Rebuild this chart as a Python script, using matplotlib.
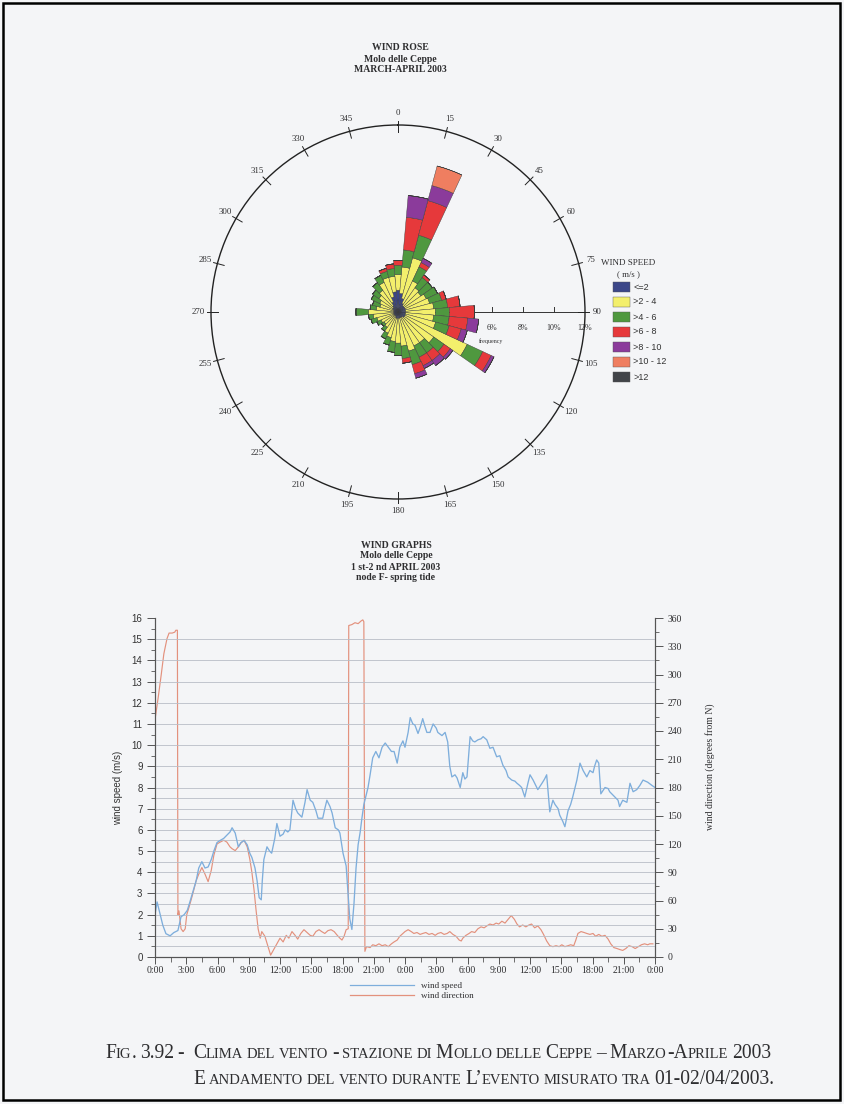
import numpy as np
import matplotlib
matplotlib.use("Agg")
import matplotlib.pyplot as plt
from matplotlib.patches import Rectangle
from matplotlib.lines import Line2D
from matplotlib.ticker import MultipleLocator

# ---------------- data: wind rose (frequency %, 10-degree sectors) ----------------
DIRECTIONS = list(range(0, 360, 10))
SPEED_CLASSES = ["<=2", ">2 - 4", ">4 - 6", ">6 - 8", ">8 - 10", ">10 - 12", ">12"]
FREQ_LE2 = [1.4, 1.2, 0.9, 0.6, 0.5, 0.5, 0.5, 0.5, 0.5, 0.5, 0.5, 0.5, 0.5, 0.5, 0.4, 0.4, 0.4, 0.4,
            0.4, 0.4, 0.4, 0.3, 0.3, 0.3, 0.3, 0.3, 0.3, 0.3, 0.3, 0.3, 0.4, 0.4, 0.5, 0.7, 1.0, 1.3]
FREQ_2_4 = [1.0, 1.7, 2.7, 1.6, 1.4, 1.3, 1.5, 1.6, 1.8, 1.9, 1.8, 2.0, 4.4, 2.3, 2.0, 2.0, 2.2, 1.8,
            1.6, 1.5, 1.3, 1.2, 0.9, 0.8, 0.9, 1.1, 1.3, 1.6, 1.1, 0.9, 0.9, 1.1, 1.2, 1.4, 1.3, 1.0]
FREQ_4_6 = [0.6, 1.1, 1.5, 1.0, 0.8, 0.9, 0.8, 0.8, 0.9, 0.9, 1.0, 0.9, 1.1, 0.8, 0.8, 0.8, 0.9, 0.8,
            0.8, 0.7, 0.5, 0.4, 0.3, 0.2, 0.3, 0.4, 0.3, 0.8, 0.4, 0.5, 0.6, 0.5, 0.6, 0.5, 0.4, 0.5]
FREQ_6_8 = [0.3, 2.1, 2.3, 0.3, 0.2, 0.0, 0.0, 0.3, 0.8, 1.6, 1.2, 0.8, 0.6, 0.5, 0.6, 0.6, 0.6, 0.3,
            0.0, 0.0, 0.0, 0.0, 0.0, 0.0, 0.0, 0.0, 0.0, 0.0, 0.0, 0.0, 0.0, 0.0, 0.0, 0.0, 0.2, 0.3]
FREQ_8_10 = [0.0, 1.4, 1.0, 0.3, 0.0, 0.0, 0.0, 0.0, 0.0, 0.0, 0.7, 0.4, 0.2, 0.2, 0.4, 0.2, 0.3, 0.0,
             0.0, 0.0, 0.0, 0.0, 0.0, 0.0, 0.0, 0.0, 0.0, 0.0, 0.0, 0.0, 0.0, 0.0, 0.0, 0.0, 0.0, 0.0]
FREQ_10_12 = [0.0, 0.0, 1.3, 0.0, 0.0, 0.0, 0.0, 0.0, 0.0, 0.0, 0.0, 0.0, 0.0, 0.0, 0.0, 0.0, 0.0, 0.0,
              0.0, 0.0, 0.0, 0.0, 0.0, 0.0, 0.0, 0.0, 0.0, 0.0, 0.0, 0.0, 0.0, 0.0, 0.0, 0.0, 0.0, 0.0]
FREQ_GT12 = [0.0] * 36
ROSE_RINGS = [6, 8, 10, 12]

# ---------------- data: wind graphs 1-2 April 2003 ----------------
SPEED_HOURS = [0.0, 0.2, 0.5, 0.75, 1.05, 1.45, 1.8, 2.2, 2.5, 2.8, 3.1, 3.35, 3.65, 3.95, 4.2, 4.5, 4.8,
               5.1, 5.4, 5.65, 5.95, 6.25, 6.6, 6.9, 7.2, 7.4, 7.7, 8.0, 8.25, 8.55, 8.85, 9.1, 9.3, 9.6,
               9.8, 10.0, 10.2, 10.3, 10.45, 10.75, 11.0, 11.2, 11.5, 11.7, 12.0, 12.3, 12.5, 12.75,
               12.95, 13.25, 13.5, 13.7, 14.1, 14.4, 14.6, 14.9, 15.15, 15.45, 15.65, 16.1, 16.3, 16.5,
               16.8, 17.0, 17.3, 17.6, 17.75, 18.05, 18.35, 18.5, 18.7, 18.9, 19.1, 19.3, 19.5, 19.7,
               19.85, 20.05, 20.25, 20.45, 20.65, 20.9, 21.2, 21.5, 21.8, 22.1, 22.4, 22.7, 22.95,
               23.25, 23.5, 23.8, 24.0, 24.3, 24.5, 24.75, 24.95, 25.25, 25.5, 25.7, 25.9, 26.1, 26.4,
               26.7, 27.0, 27.15, 27.55, 27.85, 28.1, 28.3, 28.5, 28.8, 29.0, 29.3, 29.55, 29.75,
               29.95, 30.25, 30.5, 30.7, 31.0, 31.3, 31.5, 31.85, 32.15, 32.45, 32.8, 33.1, 33.4, 33.7,
               33.9, 34.25, 34.55, 34.75, 35.0, 35.2, 35.5, 35.8, 36.0, 36.3, 36.55, 36.75, 37.15,
               37.4, 37.6, 37.9, 38.2, 38.4, 38.7, 38.85, 39.15, 39.35, 39.65, 39.9, 40.1, 40.5, 40.8,
               41.1, 41.45, 41.75, 42.05, 42.2, 42.4, 42.6, 42.8, 43.2, 43.5, 43.65, 43.95, 44.45,
               44.6, 44.9, 45.3, 45.6, 45.9, 46.25, 46.55, 46.85, 47.3, 47.7, 48.0]
SPEED_MS = [2.0, 2.6, 2.0, 1.5, 1.1, 1.0, 1.15, 1.25, 1.9, 2.0, 2.2, 2.6, 3.1, 3.6, 4.2, 4.5, 4.2,
            4.25, 4.6, 5.0, 5.4, 5.5, 5.6, 5.75, 5.9, 6.1, 5.85, 5.2, 5.4, 5.5, 5.3, 4.9, 4.7, 4.2,
            3.6, 2.8, 2.7, 3.6, 4.6, 5.2, 5.0, 4.9, 5.6, 6.3, 5.7, 5.8, 6.0, 5.9,
            6.0, 7.4, 7.0, 6.8, 6.6, 7.3, 7.9, 7.4, 7.3, 6.9, 6.55, 6.55, 7.0, 7.4,
            7.1, 6.8, 6.1, 6.0, 5.85, 4.9, 4.3, 3.2, 1.8, 1.3, 2.5, 4.2, 5.3, 5.9,
            6.5, 7.2, 7.6, 8.0, 8.6, 9.4, 9.7, 9.4, 9.9, 10.1, 9.9, 9.7, 9.7,
            9.15, 9.9, 10.2, 9.9, 10.6, 11.3, 11.0, 10.95, 10.55, 10.9, 11.25, 10.9, 10.6, 10.6,
            11.0, 10.8, 10.6, 10.45, 10.6, 10.15, 9.0, 8.5, 8.6, 8.45, 8.0, 8.7, 8.4,
            8.5, 10.4, 10.2, 10.15, 10.25, 10.3, 10.4, 10.25, 9.85, 9.9, 9.45, 9.5, 9.05, 8.8,
            8.5, 8.35, 8.3, 8.2, 8.1, 8.0, 7.55, 8.2, 8.6, 8.35, 8.1, 7.9, 8.2,
            8.4, 8.6, 6.85, 7.4, 7.2, 7.0, 6.7, 6.4, 6.15, 6.9, 7.2, 7.55, 8.35, 9.15,
            8.8, 8.5, 8.8, 8.7, 9.0, 9.3, 9.15, 7.7, 8.0, 7.95, 7.8, 7.65, 7.4,
            7.1, 7.4, 7.3, 8.2, 7.8, 7.9, 8.1, 8.35, 8.25, 8.1, 8.0]

DIR_HOURS = [0.0, 0.3, 0.6, 0.85, 1.15, 1.35, 1.65, 1.9, 2.0, 2.15, 2.2, 2.3, 2.5, 2.7, 2.9, 3.05,
             3.35, 3.65, 3.95, 4.2, 4.5, 4.8, 5.1, 5.4, 5.65, 5.95, 6.25, 6.6, 6.9, 7.2, 7.4, 7.7,
             8.0, 8.25, 8.55, 8.85, 9.1, 9.3, 9.5, 9.7, 9.9, 10.1, 10.25, 10.55, 10.85, 11.1, 11.4,
             11.7, 12.0, 12.3, 12.6, 12.85, 13.15, 13.45, 13.7, 14.0, 14.3, 14.6, 14.9, 15.15,
             15.45, 15.75, 16.0, 16.3, 16.6, 16.9, 17.2, 17.5, 17.75, 17.95, 18.15, 18.35, 18.55,
             18.6, 18.9, 19.2, 19.5, 19.8, 19.95, 20.05, 20.15, 20.3, 20.65, 20.9, 21.2, 21.5,
             21.8, 22.1, 22.4, 22.7, 22.95, 23.25, 23.5, 23.8, 24.0, 24.3, 24.6, 24.85, 25.15,
             25.45, 25.7, 26.0, 26.3, 26.6, 26.9, 27.15, 27.45, 27.75, 28.05, 28.3, 28.6, 28.9,
             29.2, 29.4, 29.55, 29.85, 30.15, 30.4, 30.7, 31.0, 31.3, 31.6, 31.85, 32.15, 32.45,
             32.75, 33.0, 33.3, 33.6, 33.9, 34.2, 34.5, 34.75, 35.0, 35.3, 35.6, 35.9, 36.15,
             36.45, 36.75, 37.05, 37.3, 37.6, 37.9, 38.2, 38.5, 38.8, 39.05, 39.35, 39.65, 39.9,
             40.2, 40.4, 40.6, 40.9, 41.2, 41.45, 41.75, 42.05, 42.3, 42.6, 42.9, 43.2, 43.5,
             43.75, 44.05, 44.35, 44.6, 44.9, 45.2, 45.5, 45.8, 46.1, 46.4, 46.7, 47.0, 47.3,
             47.5, 47.8]
DIR_DEG = [252, 275, 300, 322, 338, 344, 344, 345, 347, 347, 45, 49, 30, 27, 30, 45,
           56, 68, 81, 88, 95, 88, 80, 92, 108, 120, 122, 124, 122, 117, 115, 113,
           117, 121, 124, 117, 104, 90, 72, 50, 30, 20, 27, 22, 11, 2, 8,
           14, 20, 16, 23, 20, 27, 23, 19, 25, 29, 26, 23, 22,
           27, 29, 27, 25, 28, 29, 27, 23, 20, 18, 22, 29, 30,
           352, 353, 355, 354, 357, 358, 356, 6, 11, 10, 13, 12, 14,
           12, 13, 11, 14, 16, 18, 22, 25, 27, 29, 27, 25, 26,
           24, 25, 26, 24, 25, 23, 25, 26, 24, 25, 27, 24, 22,
           18, 17, 20, 23, 25, 27, 26, 30, 32, 31, 33, 35, 34,
           36, 35, 38, 36, 40, 44, 40, 35, 32, 34, 32, 34, 35,
           31, 33, 29, 24, 17, 12, 11, 12, 11, 13, 11, 12, 13,
           12, 18, 25, 27, 26, 25, 24, 25, 22, 24, 22, 23, 19,
           14, 10, 9, 8, 7, 9, 12, 11, 9, 11, 13, 14, 13,
           14, 14]

TIME_LABELS = ["0:00", "3:00", "6:00", "9:00", "12:00", "15:00", "18:00", "21:00",
               "0:00", "3:00", "6:00", "9:00", "12:00", "15:00", "18:00", "21:00", "0:00"]
SPEED_GRID = [1, 2, 3, 4, 5, 6, 7, 8, 9, 10, 11, 12, 13, 14, 15,
              0.5, 1.5, 2.5, 3.5, 4.5, 5.5, 6.5, 7.5]

# ---------------- style ----------------
W, H = 844, 1104
PAPER = "#f4f5f7"
INK = "#2e2e30"
SERIF = "Liberation Serif"
SANS = "Liberation Sans"
CLASS_COLORS = ["#3b4688", "#f3ef6c", "#4f983f", "#e6393b", "#8b3b9b", "#ef7e60", "#414449"]
SPEED_COLOR = "#7eaedc"
DIR_COLOR = "#e3917d"
GRID_COLOR = "#b9bec6"


def fx(x):
    return x / W


def fy(y):
    return 1 - y / H


fig = plt.figure(figsize=(W / 100, H / 100), dpi=100, facecolor=PAPER)

# page frame
fig.add_artist(Rectangle((fx(3), fy(1100)), fx(840) - fx(3), fy(3) - fy(1100),
                         transform=fig.transFigure, fill=False, lw=1.8, ec="black"))

# ---------------- wind rose ----------------
for i, line in enumerate(["WIND ROSE", "Molo delle Ceppe", "MARCH-APRIL 2003"]):
    fig.text(fx(400), fy(48 + 11 * i), line, ha="center", va="center", fontsize=7,
             fontweight="bold", family=SERIF, color=INK)

cx, cy, RX, RY = 398, 312, 187, 190
rax = fig.add_axes([fx(cx - RX), fy(cy + RY), 2 * RX / W, 2 * RY / H], projection="polar")
rax.set_theta_zero_location("N")
rax.set_theta_direction(-1)
rax.set_ylim(0, 12)
rax.set_facecolor("none")
rax.grid(False)
rax.set_xticks([])
rax.set_yticks([])
rax.spines["polar"].set_linewidth(1.0)
rax.spines["polar"].set_color("#222222")

theta = np.deg2rad(DIRECTIONS)
width = np.deg2rad(10)
layers = [FREQ_LE2, FREQ_2_4, FREQ_4_6, FREQ_6_8, FREQ_8_10, FREQ_10_12, FREQ_GT12]
bottom = np.zeros(len(DIRECTIONS))
for vals, col in zip(layers, CLASS_COLORS):
    v = np.array(vals)
    rax.bar(theta, v, width=width, bottom=bottom, color=col, edgecolor="#3a3a3a",
            linewidth=0.3, zorder=3)
    bottom = bottom + v


def cart(east, north):
    return np.arctan2(east, north), np.hypot(east, north)


# radial frequency axis along 90 degrees
rax.plot([np.pi / 2, np.pi / 2], [0, 12], color="#333333", lw=0.7, zorder=1)
for r in range(2, 13, 2):
    t0, r0 = cart(r, 0)
    t1, r1 = cart(r, 0.3)
    rax.plot([t0, t1], [r0, r1], color="#333333", lw=0.7, zorder=1)
for r in ROSE_RINGS:
    t, rr = cart(r, -1.0)
    rax.text(t, rr, f"{r}%", ha="center", va="center", fontsize=5.8, family=SERIF, color=INK)
t, rr = cart(6.0, -1.85)
rax.text(t, rr, "frequency", ha="center", va="center", fontsize=4.3, family=SERIF, color=INK)

# compass labels and tick marks
for a in range(0, 360, 15):
    th = np.deg2rad(a)
    rax.plot([th, th], [11.55, 12.25], color="#222222", lw=0.7, clip_on=False)
    rax.text(th, 12.8, str(a), ha="center", va="center", fontsize=6.3, family=SERIF,
             color=INK, clip_on=False)

# rose legend
fig.text(fx(628), fy(263), "WIND SPEED", ha="center", va="center", fontsize=6.5,
         family=SERIF, color=INK)
fig.text(fx(628), fy(274), "( m/s )", ha="center", va="center", fontsize=6.3,
         family=SERIF, color=INK)
for i, (lab, col) in enumerate(zip(SPEED_CLASSES, CLASS_COLORS)):
    yc = 287 + 15 * i
    fig.add_artist(Rectangle((fx(613), fy(yc + 5)), 17 / W, 10 / H, transform=fig.transFigure,
                             facecolor=col, edgecolor="#555555", lw=0.3))
    fig.text(fx(633), fy(yc), lab, ha="left", va="center", fontsize=6.5, family=SANS,
             color="#333333")

# ---------------- wind graphs ----------------
for i, line in enumerate(["WIND GRAPHS", "Molo delle Ceppe", "1 st-2 nd APRIL 2003",
                          "node F- spring tide"]):
    fig.text(fx(396), fy(545 + 11 * i), line, ha="center", va="center", fontsize=7,
             fontweight="bold", family=SERIF, color=INK)

ax = fig.add_axes([fx(155), fy(957), 500 / W, 339 / H])
ax2 = ax.twinx()
ax.set_zorder(ax2.get_zorder() + 1)
ax.patch.set_visible(False)

ax.set_xlim(0, 48)
ax.set_ylim(0, 16)
ax2.set_ylim(0, 360)

for g in SPEED_GRID:
    ax.axhline(g, color=GRID_COLOR, lw=0.6, zorder=0)

ax2.plot(DIR_HOURS, DIR_DEG, color=DIR_COLOR, lw=0.85)
ax.plot(SPEED_HOURS, SPEED_MS, color=SPEED_COLOR, lw=0.95)

for a in (ax, ax2):
    a.spines["top"].set_visible(False)
    for s in ("left", "right", "bottom"):
        a.spines[s].set_color("#555555")
        a.spines[s].set_linewidth(0.8)

ax.set_xticks(np.arange(0, 49, 3))
ax.set_xticklabels(TIME_LABELS)
ax.xaxis.set_minor_locator(MultipleLocator(1.5))
ax.yaxis.set_major_locator(MultipleLocator(1))
ax.yaxis.set_minor_locator(MultipleLocator(0.5))
ax2.yaxis.set_major_locator(MultipleLocator(30))
ax2.yaxis.set_minor_locator(MultipleLocator(15))

ax.tick_params(axis="x", which="major", length=5, width=0.7, color="#555555", pad=1.5,
               labelsize=7, labelcolor=INK)
ax.tick_params(axis="x", which="minor", length=3.5, width=0.6, color="#555555")
ax.tick_params(axis="y", which="major", length=6, width=0.7, color="#555555", pad=3,
               labelsize=7, labelcolor="#333333")
ax.tick_params(axis="y", which="minor", length=3, width=0.6, color="#555555")
ax2.tick_params(axis="y", which="major", length=6, width=0.7, color="#555555", pad=3,
                labelsize=7, labelcolor=INK)
ax2.tick_params(axis="y", which="minor", length=3, width=0.6, color="#555555")
for lbl in ax.get_xticklabels():
    lbl.set_family(SERIF)
for lbl in ax.get_yticklabels():
    lbl.set_family(SANS)
for lbl in ax2.get_yticklabels():
    lbl.set_family(SERIF)

ax.set_ylabel("wind speed (m/s)", family=SANS, fontsize=7, color="#333333")
ax.yaxis.set_label_coords(-0.064, 0.5)
ax2.set_ylabel("wind direction (degrees from N)", family=SERIF, fontsize=7, color=INK,
               rotation=90)
ax2.yaxis.set_label_coords(1.10, 0.56)

handles = [Line2D([], [], color=SPEED_COLOR, lw=0.9), Line2D([], [], color=DIR_COLOR, lw=0.9)]
fig.legend(handles, ["wind speed", "wind direction"], loc="center",
           bbox_to_anchor=(fx(412), fy(991)), frameon=False,
           prop={"family": SERIF, "size": 6.5}, handlelength=7, labelspacing=0.25,
           handletextpad=0.8, labelcolor=INK)

# ---------------- caption in small capitals ----------------
renderer = fig.canvas.get_renderer()


def small_caps(x0, y0, text, big, small, draw=True):
    x = x0
    words = text.split(" ")
    drawn = []
    for wi, word in enumerate(words):
        runs = []
        for ch in word:
            key = "s" if ch.islower() else "b"
            c = ch.upper()
            if runs and runs[-1][0] == key:
                runs[-1][1] += c
            else:
                runs.append([key, c])
        for key, s in runs:
            size = big if key == "b" else small
            t = fig.text(fx(x), fy(y0), s, fontsize=size, family=SERIF, color=INK,
                         ha="left", va="baseline")
            x += t.get_window_extent(renderer).width
            drawn.append(t)
        if wi < len(words) - 1:
            x += 0.25 * small * 100 / 72
    if not draw:
        for t in drawn:
            t.remove()
    return x - x0


LINE1 = "Clima del vento - stazione di Mollo delle Ceppe \u2013 Marzo-Aprile 2003"
LINE2 = "E andamento del vento durante L\u2019evento misurato tra 01-02/04/2003."
base_big, base_small = 12.0, 9.0
w1 = small_caps(193, 1058, LINE1, base_big, base_small, draw=False)
k = 577.0 / w1
small_caps(105, 1058, "Fig. 3.92 -", base_big * k, base_small * k)
small_caps(193, 1058, LINE1, base_big * k, base_small * k)
small_caps(193, 1084, LINE2, base_big * k, base_small * k)

fig.savefig("out.png", dpi=100, facecolor=fig.get_facecolor())
